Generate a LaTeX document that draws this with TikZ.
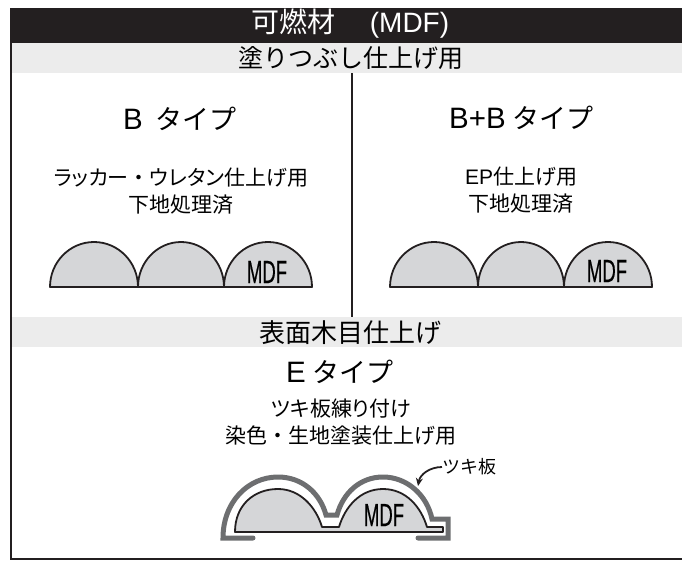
\documentclass[tikz,border=0pt]{standalone}
\usepackage{fontspec}
\setmainfont{Noto Sans CJK JP}
\newfontfamily\paltfont[RawFeature=+palt]{Noto Sans CJK JP}
\newfontfamily\latinfont{Liberation Sans}
\newfontfamily\mdffont[FakeStretch=0.58,FakeBold=0.4]{Liberation Sans}
\usetikzlibrary{arrows.meta}
\definecolor{inkblack}{RGB}{35,31,32}
\definecolor{bandgray}{RGB}{236,236,236}
\definecolor{mdfgray}{RGB}{213,214,216}
\definecolor{veneergray}{RGB}{109,110,112}
\newcommand{\typeletter}[1]{{\latinfont\fontsize{29.5}{31}\selectfont #1}}
\tikzset{
  bandtext/.style={inner sep=0pt, font=\fontsize{25}{26}\selectfont},
  typetext/.style={inner sep=0pt, font=\fontsize{27}{30}\selectfont},
  notetext/.style={inner sep=0pt, align=center, font=\fontsize{21}{27}\selectfont},
  mdftext/.style={inner sep=0pt, font=\mdffont\fontsize{32}{32}\selectfont},
  mdfpart/.style={draw=inkblack, fill=mdfgray, line width=1.8pt, line join=round},
  mdf arches/.pic={
    \draw[mdfpart] (0,0) arc[start angle=180,end angle=0,x radius=44pt,y radius=45pt] -- cycle;
    \draw[mdfpart] (88,0) arc[start angle=180,end angle=0,x radius=43pt,y radius=45pt] -- cycle;
    \draw[mdfpart] (174,0) arc[start angle=180,end angle=0,x radius=44pt,y radius=45pt] -- cycle;
  }
}
\begin{document}
\begin{tikzpicture}[x=1pt, y=-1pt]
\useasboundingbox (0,0) rectangle (682,560);

% bands
\fill[bandgray] (10,43) rectangle (682,73);
\fill[bandgray] (10,317) rectangle (682,347);
\fill[inkblack] (9.5,8) rectangle (682,43);
\fill[inkblack] (10,8) rectangle (12,560);
\fill[inkblack] (10,558) rectangle (682,560);

\coordinate (divtop) at (352,73);
\coordinate (divbot) at (352,317);
\draw[inkblack, line width=2pt] (divtop) -- (divbot);

\node[inner sep=0pt, text=white, font=\fontsize{28}{30}\selectfont] (title) at (350.5,24) {可燃材\hspace{34pt}{\latinfont\fontsize{28}{28}\selectfont(MDF)}};
\node[bandtext] (painted) at (351,58) {塗りつぶし仕上げ用};
\node[bandtext, font=\fontsize{26}{26}\selectfont] (wood) at (350,333) {表面木目仕上げ};

% B
\node[typetext] (btype) at (180,118.5) {\typeletter{B}\hspace{13pt}タイプ};
\node[notetext] (bnote) at (181,191.5) {{\paltfont ラッカー}・{\paltfont ウレタン}仕上げ用\\下地処理済};
\pic at (50,287) {mdf arches};
\node[mdftext] (bmdf) at (267,272) {MDF};

% B+B
\node[typetext] (bbtype) at (521.5,118) {\typeletter{B+B}\hspace{7pt}タイプ};
\node[notetext] (bbnote) at (521,190) {{\latinfont EP}仕上げ用\\下地処理済};
\pic at (390,287) {mdf arches};
\node[mdftext] (bbmdf) at (607,271) {MDF};

% E
\node[typetext] (etype) at (340,371.5) {\typeletter{E}\hspace{7pt}タイプ};
\node[notetext] (enote) at (341,422.5) {{\paltfont ツキ板練り付け}\\染色・生地塗装仕上げ用};

\draw[veneergray, line width=5pt, line cap=round, line join=miter]
  (253,538) -- (223,538) .. controls (223,502) and (248,477) .. (278,477)
  .. controls (302,477) and (320,493) .. (326,515) -- (337,515)
  .. controls (343,493) and (360,477) .. (383,477)
  .. controls (407,477) and (427,495) .. (432,519) -- (448,519) -- (448,538) -- (418,538);
\draw[mdfpart] (235,532) .. controls (235,505) and (254,489) .. (278,489)
  .. controls (300,489) and (316,507) .. (322,527) -- (339,527)
  .. controls (345,507) and (360,489) .. (383,489)
  .. controls (406,489) and (421,507) .. (427,527) -- (443,527) -- (443,532) -- cycle;
\node[mdftext] (emdf) at (384,515) {MDF};

\node[inner sep=0pt, anchor=west, font=\fontsize{18}{20}\selectfont] (veneer) at (442,467) {ツキ板};
\coordinate (veneertip) at (418,486);
\draw[-{Stealth[length=8pt,width=7pt]}, inkblack, line width=1.8pt] (veneer.west) to[out=180, in=80] (veneertip);
\end{tikzpicture}
\end{document}
